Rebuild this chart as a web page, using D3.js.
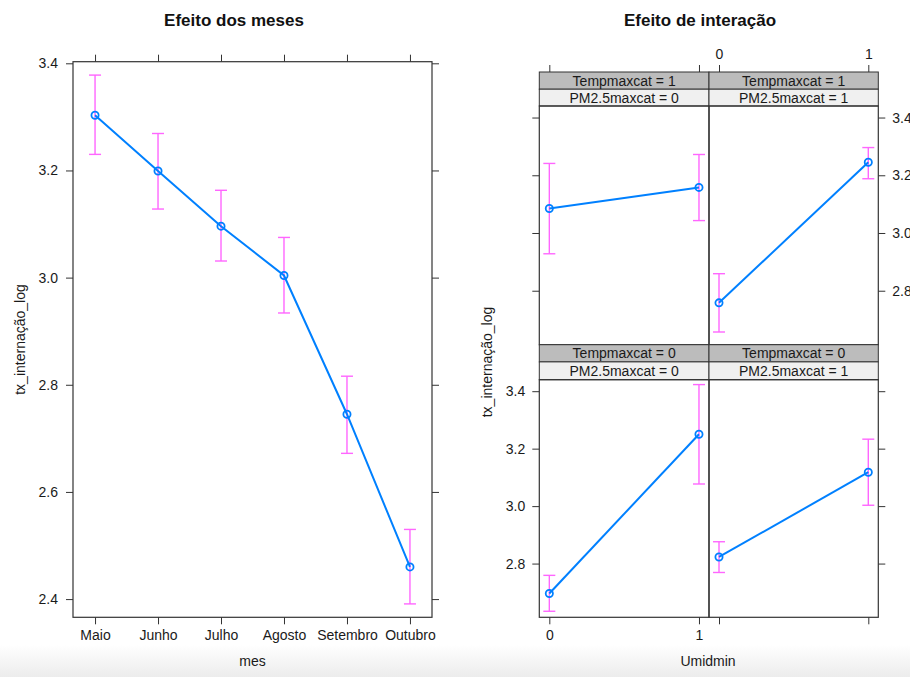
<!DOCTYPE html>
<html>
<head>
<meta charset="utf-8">
<script src="https://cdn.jsdelivr.net/npm/d3@7/dist/d3.min.js"></script>
<style>
  html, body { margin: 0; padding: 0; background: #ffffff; }
  svg { display: block; font-family: "Liberation Sans", Arial, Helvetica, sans-serif; }
</style>
</head>
<body>
<svg id="chart" width="910" height="677"></svg>
<script>
// ---- Month effect ----
const months = ["Maio", "Junho", "Julho", "Agosto", "Setembro", "Outubro"];
const monthFit   = [3.303, 3.199, 3.096, 3.004, 2.745, 2.460];
const monthLower = [3.230, 3.128, 3.031, 2.934, 2.672, 2.391];
const monthUpper = [3.378, 3.269, 3.163, 3.075, 2.816, 2.530];
const monthTicks = [2.4, 2.6, 2.8, 3.0, 3.2, 3.4];

// ---- Interaction effect (Umidmin x Tempmaxcat x PM2.5maxcat) ----
const umidLevels = [0, 1];
const panelTemp = [1, 1, 0, 0];
const panelPM   = [0, 1, 0, 1];
const panelFit   = [[3.085, 3.158], [2.758, 3.245], [2.696, 3.250], [2.823, 3.118]];
const panelLower = [[2.928, 3.043], [2.657, 3.188], [2.634, 3.077], [2.769, 3.003]];
const panelUpper = [[3.241, 3.272], [2.859, 3.296], [2.759, 3.423], [2.876, 3.233]];
const interTicks = [2.8, 3.0, 3.2, 3.4];

const FONT = '"Liberation Sans", Arial, Helvetica, sans-serif';
const LINE = "#0080ff";
const CI = "#ff66ff";
const BORDER = "#333";
const TEXT = "#1a1a1a";
const TICK = 7;

const svg = d3.select("#chart");

// soft shading along the bottom edge
const defs = svg.append("defs");
const grad = defs.append("linearGradient").attr("id", "fade").attr("x1", 0).attr("y1", 0).attr("x2", 0).attr("y2", 1);
grad.append("stop").attr("offset", "0%").attr("stop-color", "#ffffff");
grad.append("stop").attr("offset", "100%").attr("stop-color", "#ececec");
svg.append("rect").attr("x", 0).attr("y", 645).attr("width", 910).attr("height", 32).attr("fill", "url(#fade)");

function cleanAxis(g) {
  g.attr("font-family", FONT).attr("font-size", 14);
  g.select(".domain").remove();
  g.selectAll(".tick line").attr("stroke", BORDER);
  g.selectAll(".tick text").attr("fill", TEXT).attr("font-size", 14).attr("font-family", FONT);
}

function errorBars(g, xs, lo, hi, fit, x, y) {
  const cap = 6;
  xs.forEach((d, i) => {
    const cx = x(d);
    g.append("line").attr("x1", cx).attr("x2", cx).attr("y1", y(lo[i])).attr("y2", y(hi[i]))
      .attr("stroke", CI).attr("stroke-width", 1.4);
    [lo[i], hi[i]].forEach(v => {
      g.append("line").attr("x1", cx - cap).attr("x2", cx + cap).attr("y1", y(v)).attr("y2", y(v))
        .attr("stroke", CI).attr("stroke-width", 1.4);
    });
  });
  const line = d3.line().x((d, i) => x(xs[i])).y(d => y(d));
  g.append("path").datum(fit).attr("d", line).attr("fill", "none")
    .attr("stroke", LINE).attr("stroke-width", 2);
  g.selectAll(null).data(fit).enter().append("circle")
    .attr("cx", (d, i) => x(xs[i])).attr("cy", d => y(d)).attr("r", 3.6)
    .attr("fill", "none").attr("stroke", LINE).attr("stroke-width", 1.8);
}

// ================= Left chart =================
{
  const L = 73, R = 432, T = 61.7, B = 617.3;
  const x = d3.scalePoint().domain(months).range([L, R]).padding(0.35);
  const y = d3.scaleLinear().domain([2.366, 3.403]).range([B, T]);

  svg.append("text").attr("x", 234).attr("y", 26).attr("text-anchor", "middle")
    .attr("font-size", 17).attr("font-weight", "bold").attr("fill", "#111").text("Efeito dos meses");

  const g = svg.append("g");
  g.append("g").attr("transform", `translate(${L},0)`)
    .call(d3.axisLeft(y).tickValues(monthTicks).tickFormat(d3.format(".1f")).tickSize(TICK).tickPadding(8)).call(cleanAxis);
  g.append("g").attr("transform", `translate(${R},0)`)
    .call(d3.axisRight(y).tickValues(monthTicks).tickFormat("").tickSize(TICK)).call(cleanAxis);
  g.append("g").attr("transform", `translate(0,${B})`)
    .call(d3.axisBottom(x).tickSize(TICK).tickPadding(6)).call(cleanAxis);
  g.append("g").attr("transform", `translate(0,${T})`)
    .call(d3.axisTop(x).tickFormat("").tickSize(TICK)).call(cleanAxis);

  errorBars(g, months, monthLower, monthUpper, monthFit, x, y);

  g.append("rect").attr("x", L).attr("y", T).attr("width", R - L).attr("height", B - T)
    .attr("fill", "none").attr("stroke", BORDER).attr("stroke-width", 1.2);

  svg.append("text").attr("x", (L + R) / 2).attr("y", 666).attr("text-anchor", "middle")
    .attr("font-size", 14).attr("fill", TEXT).text("mes");
  svg.append("text").attr("transform", `translate(25,${(T + B) / 2}) rotate(-90)`)
    .attr("text-anchor", "middle").attr("font-size", 14).attr("fill", TEXT).text("tx_internação_log");
}

// ================= Right chart (2 x 2 lattice) =================
{
  const colX = [539.3, 709, 878.3];
  const stripTop = [72, 344.7];
  const stripH = 17.2;
  const panelTop = [106, 379.7];
  const panelBot = [344.7, 617.3];

  svg.append("text").attr("x", 700).attr("y", 26).attr("text-anchor", "middle")
    .attr("font-size", 17).attr("font-weight", "bold").attr("fill", "#111").text("Efeito de interação");

  for (let p = 0; p < 4; p++) {
    const row = panelTemp[p] === 1 ? 0 : 1;
    const col = panelPM[p];
    const L = colX[col], R = colX[col + 1];
    const T = panelTop[row], B = panelBot[row];
    const x = d3.scaleLinear().domain([-0.067, 1.067]).range([L, R]);
    const y = d3.scaleLinear().domain([2.613, 3.44]).range([B, T]);
    const g = svg.append("g");

    // strips
    const st = stripTop[row];
    g.append("rect").attr("x", L).attr("y", st).attr("width", R - L).attr("height", stripH)
      .attr("fill", "#bcbcbc").attr("stroke", BORDER).attr("stroke-width", 1);
    g.append("rect").attr("x", L).attr("y", st + stripH).attr("width", R - L).attr("height", T - st - stripH)
      .attr("fill", "#f0f0f0").attr("stroke", BORDER).attr("stroke-width", 1);
    g.append("text").attr("x", (L + R) / 2).attr("y", st + stripH - 3.5).attr("text-anchor", "middle")
      .attr("font-size", 14).attr("fill", TEXT).text(`Tempmaxcat = ${panelTemp[p]}`);
    g.append("text").attr("x", (L + R) / 2).attr("y", T - 3.5).attr("text-anchor", "middle")
      .attr("font-size", 14).attr("fill", TEXT).text(`PM2.5maxcat = ${panelPM[p]}`);

    // y axes: labels alternate left (bottom row) / right (top row)
    if (col === 0) {
      g.append("g").attr("transform", `translate(${L},0)`)
        .call(d3.axisLeft(y).tickValues(interTicks).tickSize(TICK).tickPadding(7)
          .tickFormat(row === 1 ? d3.format(".1f") : "")).call(cleanAxis);
    } else {
      g.append("g").attr("transform", `translate(${R},0)`)
        .call(d3.axisRight(y).tickValues(interTicks).tickSize(TICK).tickPadding(7)
          .tickFormat(row === 0 ? d3.format(".1f") : "")).call(cleanAxis);
    }
    // x axes: labels bottom for left column, top for right column
    if (row === 1) {
      g.append("g").attr("transform", `translate(0,${B})`)
        .call(d3.axisBottom(x).tickValues(umidLevels).tickSize(TICK).tickPadding(6)
          .tickFormat(col === 0 ? d3.format("d") : "")).call(cleanAxis);
    } else {
      g.append("g").attr("transform", `translate(0,${st})`)
        .call(d3.axisTop(x).tickValues(umidLevels).tickSize(TICK).tickPadding(6)
          .tickFormat(col === 1 ? d3.format("d") : "")).call(cleanAxis);
    }

    errorBars(g, umidLevels, panelLower[p], panelUpper[p], panelFit[p], x, y);

    g.append("rect").attr("x", L).attr("y", T).attr("width", R - L).attr("height", B - T)
      .attr("fill", "none").attr("stroke", BORDER).attr("stroke-width", 1.2);
  }

  svg.append("text").attr("x", 708).attr("y", 666).attr("text-anchor", "middle")
    .attr("font-size", 14).attr("fill", TEXT).text("Umidmin");
  svg.append("text").attr("transform", `translate(492,362) rotate(-90)`)
    .attr("text-anchor", "middle").attr("font-size", 14).attr("fill", TEXT).text("tx_internação_log");
}
</script>
</body>
</html>
